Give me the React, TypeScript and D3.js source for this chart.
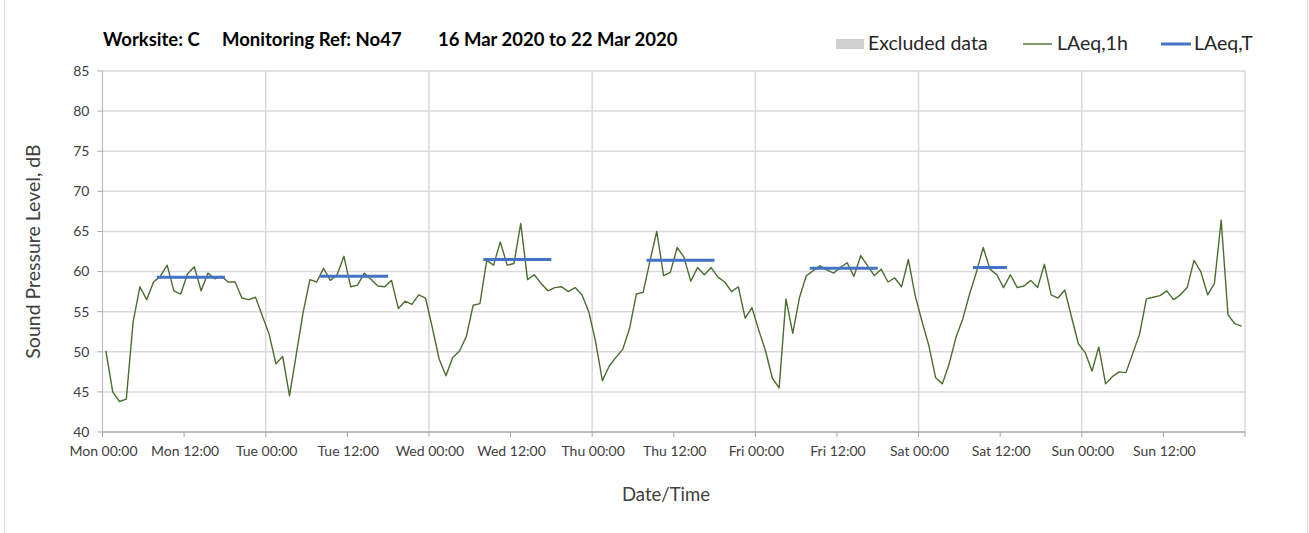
import React, { useEffect } from 'react';
import * as d3 from 'd3';

// hourly LAeq,1h, Mon 00:00 .. Sun 23:00 (plotted mid-hour)
const laeq1h = [
  50.1, 45.0, 43.8, 44.1, 53.7, 58.1, 56.5, 58.7, 59.4, 60.8, 57.6, 57.2,
  59.7, 60.6, 57.6, 59.8, 59.1, 59.4, 58.7, 58.7, 56.7, 56.5, 56.8, 54.5,
  52.2, 48.5, 49.4, 44.5, 49.7, 54.9, 59.0, 58.7, 60.4, 58.9, 59.6, 61.9,
  58.1, 58.3, 59.8, 59.0, 58.2, 58.1, 58.9, 55.4, 56.3, 55.9, 57.1, 56.7,
  53.0, 49.1, 47.0, 49.3, 50.1, 51.9, 55.8, 56.0, 61.4, 60.8, 63.7, 60.8,
  61.0, 66.0, 59.0, 59.6, 58.5, 57.6, 58.0, 58.1, 57.5, 58.0, 57.1, 55.0,
  51.3, 46.4, 48.2, 49.3, 50.3, 52.9, 57.2, 57.4, 61.3, 65.0, 59.5, 59.9,
  63.0, 61.8, 58.8, 60.5, 59.6, 60.5, 59.3, 58.7, 57.5, 58.1, 54.2, 55.5,
  52.7, 50.1, 46.7, 45.5, 56.6, 52.3, 56.8, 59.5, 60.1, 60.7, 60.2, 59.8,
  60.5, 61.1, 59.4, 62.0, 60.7, 59.5, 60.3, 58.7, 59.2, 58.1, 61.5, 57.0,
  53.8, 50.8, 46.8, 46.0, 48.5, 51.8, 54.1, 57.2, 59.9, 63.0, 60.3, 59.6,
  58.0, 59.6, 58.0, 58.2, 58.9, 58.0, 60.9, 57.1, 56.7, 57.7, 54.3, 51.0,
  49.9, 47.6, 50.6, 46.0, 46.9, 47.5, 47.4, 49.8, 52.2, 56.6, 56.8, 57.0,
  57.6, 56.5, 57.1, 58.0, 61.4, 60.0, 57.1, 58.5, 66.4, 54.6, 53.5, 53.2,
];

// LAeq,T periods (hours from Mon 00:00)
const periodStart = [8, 32, 56, 80, 104, 128];
const periodEnd = [18, 42, 66, 90, 114, 133];
const periodLevel = [59.3, 59.4, 61.5, 61.4, 60.4, 60.5];

const yTicks = [40, 45, 50, 55, 60, 65, 70, 75, 80, 85];
const days = ['Mon', 'Tue', 'Wed', 'Thu', 'Fri', 'Sat', 'Sun'];
const xTickHours = d3.range(0, 168, 12);
const xTickLabels = xTickHours.map((h) => `${days[Math.floor(h / 24)]} ${h % 24 === 0 ? '00' : '12'}:00`);

const FONT = 'Lato, "Open Sans", sans-serif';
const GRID = '#d9d9d9';

export default function App() {
  useEffect(() => {
    document.body.style.margin = '0';
  }, []);

  const left = 102.5;
  const right = 1245;
  const top = 71;
  const bottom = 432;

  const x = d3.scaleLinear().domain([0, 168]).range([left, right]);
  const y = d3.scaleLinear().domain([40, 85]).range([bottom, top]);

  const line = d3
    .line<number>()
    .x((_, i) => x(i + 0.5))
    .y((d) => y(d));

  return (
    <svg width={1309} height={533} style={{ position: 'absolute', left: 0, top: 0, background: '#fff' }} fontFamily={FONT}>
      {/* chart frame (left/right edges visible) */}
      <line x1={4.5} x2={4.5} y1={0} y2={533} stroke={GRID} />
      <line x1={1307.5} x2={1307.5} y1={0} y2={533} stroke={GRID} />

      {/* horizontal grid */}
      {yTicks.slice(1).map((t) => (
        <line key={t} x1={left} x2={right} y1={y(t)} y2={y(t)} stroke={GRID} strokeWidth={1.5} />
      ))}
      {/* vertical day grid */}
      {d3.range(24, 169, 24).map((h) => (
        <line key={h} x1={x(h)} x2={x(h)} y1={top} y2={bottom} stroke={GRID} strokeWidth={1.5} />
      ))}

      {/* axes */}
      <line x1={left} x2={left} y1={top} y2={bottom} stroke="#bfbfbf" strokeWidth={1.2} />
      <line x1={left} x2={right} y1={bottom} y2={bottom} stroke="#a6a6a6" strokeWidth={1.5} />
      {yTicks.map((t) => (
        <g key={t}>
          <line x1={left - 5} x2={left} y1={y(t)} y2={y(t)} stroke="#a6a6a6" />
          <text x={left - 13} y={y(t)} dy="0.35em" textAnchor="end" fontSize={14} fill="#404040">
            {t}
          </text>
        </g>
      ))}
      {d3.range(0, 169, 12).map((h) => (
        <line key={h} x1={x(h)} x2={x(h)} y1={bottom} y2={bottom + 5} stroke="#a6a6a6" />
      ))}
      {xTickHours.map((h, i) => (
        <text key={h} x={x(h) + 1} y={456} textAnchor="middle" fontSize={14} fill="#404040">
          {xTickLabels[i]}
        </text>
      ))}

      {/* series */}
      <path d={line(laeq1h) ?? ''} fill="none" stroke="#4a6e2f" strokeWidth={1.4} strokeLinejoin="round" />
      {periodLevel.map((v, i) => (
        <line
          key={i}
          x1={x(periodStart[i])}
          x2={x(periodEnd[i])}
          y1={y(v)}
          y2={y(v)}
          stroke="#4472c4"
          strokeWidth={3}
        />
      ))}

      {/* titles */}
      <text y={46} fontSize={18.5} fontWeight="bold" fill="#000">
        <tspan x={103}>Worksite: C</tspan>
        <tspan x={222}>Monitoring Ref: No47</tspan>
        <tspan x={438}>16 Mar 2020 to 22 Mar 2020</tspan>
      </text>
      <text x={666} y={501} textAnchor="middle" fontSize={18.5} fill="#404040">
        Date/Time
      </text>
      <text transform={`translate(40,${(top + bottom) / 2}) rotate(-90)`} textAnchor="middle" fontSize={19.5} fill="#404040">
        Sound Pressure Level, dB
      </text>

      {/* legend */}
      <rect x={836} y={39} width={28} height={10} fill="#d0d0d0" />
      <text x={868} y={50} fontSize={19.5} fill="#262626">Excluded data</text>
      <line x1={1023} x2={1052} y1={44} y2={44} stroke="#4a6e2f" strokeWidth={1.4} />
      <text x={1057} y={50} fontSize={19.5} fill="#262626">LAeq,1h</text>
      <line x1={1161} x2={1191} y1={44} y2={44} stroke="#4472c4" strokeWidth={3} />
      <text x={1194} y={50} fontSize={19.5} fill="#262626">LAeq,T</text>
    </svg>
  );
}
